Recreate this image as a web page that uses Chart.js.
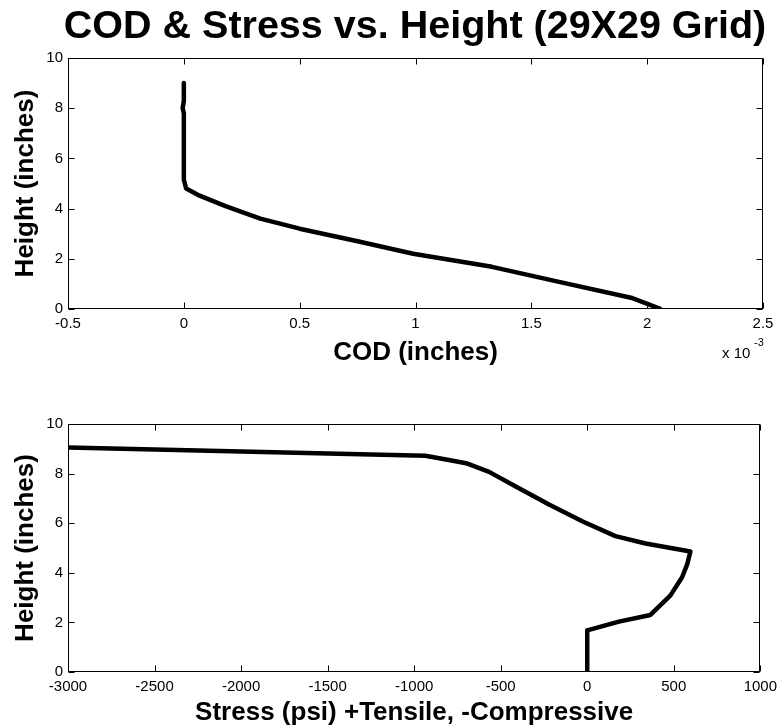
<!DOCTYPE html>
<html>
<head>
<meta charset="utf-8">
<title>COD &amp; Stress vs. Height</title>
<script src="https://cdn.jsdelivr.net/npm/chart.js@4.4.1/dist/chart.umd.min.js"></script>
<style>
  html, body { margin: 0; padding: 0; background: #fff; }
  #wrap { position: relative; width: 783px; height: 728px; overflow: hidden; }
  #title {
    position: absolute; left: 0; top: 5px; width: 830px; z-index: 2;
    text-align: center; white-space: nowrap;
    font: bold 39.5px 'Liberation Sans', Arial, sans-serif; line-height: 1; color: #000;
  }
  canvas { position: absolute; left: 0; }
  #codChart { top: 0; }
  #stressChart { top: 370px; }
</style>
</head>
<body>
<div id="wrap">
  <div id="title">COD &amp; Stress vs. Height (29X29 Grid)</div>
  <canvas id="codChart" width="783" height="370"></canvas>
  <canvas id="stressChart" width="783" height="358"></canvas>
</div>
<script>
// ── data ──
// COD in units of 1e-3 inches, height in inches
const codValues   = [0, 0, -0.005, 0, 0, 0.01, 0.06, 0.18, 0.33, 0.5, 0.75, 0.99, 1.33, 1.61, 1.93, 2.06];
const codHeights  = [9.0, 8.3, 8.0, 7.8, 5.15, 4.8, 4.55, 4.1, 3.6, 3.2, 2.7, 2.2, 1.68, 1.1, 0.45, 0.0];

// stress in psi (+ tensile, - compressive), height in inches
const stressValues  = [-3000, -935, -800, -700, -567, -413, -221, -29, 163, 337, 596, 578, 548, 481, 365, 183, 0, 0];
const stressHeights = [9.05, 8.72, 8.55, 8.42, 8.07, 7.48, 6.75, 6.08, 5.48, 5.18, 4.86, 4.35, 3.82, 3.09, 2.30, 2.03, 1.68, 0];

const codTicks    = { min: -0.5, max: 2.5, step: 0.5 };
const stressTicks = { min: -3000, max: 1000, step: 500 };
const heightTicks = { min: 0, max: 10, step: 2 };

const FONT = "'Liberation Sans', Arial, sans-serif";
const TICK = 6;

// MATLAB-style box with inward ticks on all four sides
const boxTicks = {
  id: 'boxTicks',
  afterDraw(chart) {
    const { ctx, chartArea: a, scales: { x, y } } = chart;
    ctx.save();
    ctx.strokeStyle = '#000';
    ctx.lineWidth = 1;
    const L = Math.round(a.left) + 0.5, R = Math.round(a.right) - 0.5;
    const T = Math.round(a.top) + 0.5, B = Math.round(a.bottom) - 0.5;
    ctx.strokeRect(L, T, R - L, B - T);
    ctx.beginPath();
    x.ticks.forEach(t => {
      const px = Math.round(x.getPixelForValue(t.value)) + 0.5;
      ctx.moveTo(px, B); ctx.lineTo(px, B - TICK);
      ctx.moveTo(px, T); ctx.lineTo(px, T + TICK);
    });
    y.ticks.forEach(t => {
      const py = Math.round(y.getPixelForValue(t.value)) + 0.5;
      ctx.moveTo(L, py); ctx.lineTo(L + TICK, py);
      ctx.moveTo(R, py); ctx.lineTo(R - TICK, py);
    });
    ctx.stroke();
    ctx.restore();
  },
};

// "x 10^-3" exponent label under the right end of the COD axis
const expLabel = {
  id: 'expLabel',
  afterDraw(chart) {
    const { ctx, chartArea: a } = chart;
    ctx.save();
    ctx.fillStyle = '#000';
    ctx.textBaseline = 'alphabetic';
    ctx.textAlign = 'left';
    ctx.font = '15px ' + FONT;
    ctx.fillText('x 10', a.right - 41, a.bottom + 49);
    ctx.font = '11px ' + FONT;
    ctx.fillText('-3', a.right - 9, a.bottom + 37);
    ctx.restore();
  },
};

function xScale(t, title, fmt, height, titlePad) {
  return {
    type: 'linear', min: t.min, max: t.max,
    grid: { display: false, drawTicks: false },
    border: { display: false },
    ticks: { stepSize: t.step, color: '#000', padding: 6, maxRotation: 0,
             font: { family: FONT, size: 15 }, callback: fmt },
    title: { display: true, text: title, color: '#000', padding: { top: 0, bottom: titlePad },
             font: { family: FONT, size: 26, weight: 'bold' } },
    afterFit(s) { s.height = height; },
  };
}

function yScale() {
  return {
    type: 'linear', min: heightTicks.min, max: heightTicks.max,
    grid: { display: false, drawTicks: false },
    border: { display: false },
    ticks: { stepSize: heightTicks.step, color: '#000', padding: 5,
             font: { family: FONT, size: 15 } },
    title: { display: true, text: 'Height (inches)', color: '#000', padding: { top: 10, bottom: 0 },
             font: { family: FONT, size: 26, weight: 'bold' } },
    afterFit(s) { s.width = 68; },
  };
}

function lineData(xs, ys) {
  return {
    datasets: [{
      data: xs.map((v, i) => ({ x: v, y: ys[i] })),
      showLine: true, borderColor: '#000', borderWidth: 4.5,
      borderJoinStyle: 'round', pointRadius: 0, tension: 0,
    }],
  };
}

const common = (padTop) => ({
  responsive: false,
  animation: false,
  layout: { padding: { top: padTop, right: 20, bottom: 0, left: 0 } },
  plugins: { legend: { display: false }, tooltip: { enabled: false } },
});

const trimNum = v => String(+v.toFixed(2));

new Chart(document.getElementById('codChart'), {
  type: 'scatter',
  data: lineData(codValues, codHeights),
  options: {
    ...common(58),
    scales: { x: xScale(codTicks, 'COD (inches)', trimNum, 61, 2), y: yScale() },
  },
  plugins: [boxTicks, expLabel],
});

new Chart(document.getElementById('stressChart'), {
  type: 'scatter',
  data: lineData(stressValues, stressHeights),
  options: {
    ...common(54),
    scales: { x: xScale(stressTicks, 'Stress (psi) +Tensile, -Compressive', v => String(v), 56, 0), y: yScale() },
  },
  plugins: [boxTicks],
});
</script>
</body>
</html>
